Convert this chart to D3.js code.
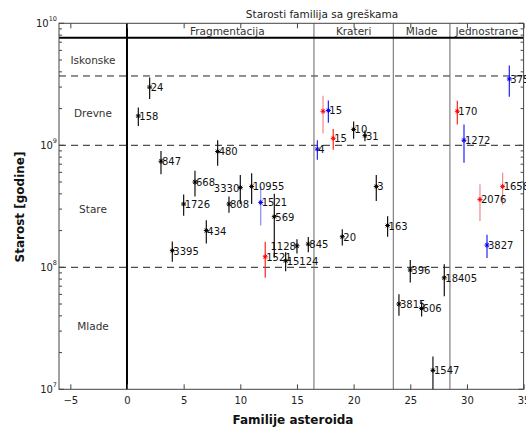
<!DOCTYPE html>
<html><head><meta charset="utf-8">
<script src="https://cdn.jsdelivr.net/npm/d3@7"></script>
<style>body{margin:0;background:#fff}svg{display:block;font-family:"DejaVu Sans",sans-serif}</style>
</head><body><svg id="c" width="526" height="430"></svg>
<script>
// ---- data ----
const labels = ["24","158","847","480","668","3330","10955","1726","808","1521","434","569","3395","1128","845","1521","15124",
  "","15","15","4","10","31","3","20","163",
  "396","18405","3815","606","1547",
  "375","170","1272","2076","1658","3827"];
const familyX = [2,1,3,8,6,10,11,5,9,11.8,7,13,4,15,16,12.2,14,
  17.3,17.77,18.2,16.8,20,21,22,19,23,
  25,28,24,26,27,
  33.74,29.15,29.74,31.15,33.15,31.77];
const ages = [3.0e9,1.74e9,7.4e8,8.9e8,5.0e8,4.5e8,4.6e8,3.3e8,3.3e8,3.4e8,2.0e8,2.6e8,1.37e8,1.5e8,1.55e8,1.22e8,1.13e8,
  1.9e9,1.93e9,1.14e9,9.3e8,1.35e9,1.2e9,4.6e8,1.78e8,2.2e8,
  9.5e7,8.2e7,5.0e7,4.6e7,1.43e7,
  3.5e9,1.9e9,1.1e9,3.6e8,4.6e8,1.52e8];
const ageErr = [0.6e9,0.3e9,1.6e8,2.1e8,1.2e8,1.2e8,1.3e8,0.65e8,0.5e8,1.2e8,0.43e8,1.4e8,0.26e8,0.2e8,0.22e8,0.4e8,0.2e8,
  0.65e9,0.4e9,0.22e9,1.7e8,0.22e9,0.12e9,1.1e8,0.27e8,0.42e8,
  2.0e7,2.4e7,1.0e7,0.65e7,0.43e7,
  1.0e9,0.42e9,0.38e9,1.2e8,1.35e8,0.33e8];
const method = ["A","A","A","A","A","A","A","A","A","C2","A","A","A","A","A","B","A",
  "B2","C","B","C","A","A","A","A","A",
  "A","A","A","A","A",
  "C","B","C","B2","B2","C"];
const xTicks = [-5,0,5,10,15,20,25,30,35];
const yTicks = [1e7,1e8,1e9,1e10];
const sectionBounds = [16.5,23.5,28.5];
const sectionNames = ["Fragmentacija","Krateri","Mlade","Jednostrane"];
const sectionCenters = [8.85,20,26,31.75];
const ageBounds = [1e8,1e9,3.7e9];
const topBound = 7.6e9;
const ageNames = ["Iskonske","Drevne","Stare","Mlade"];
const ageNamePos = [5e9,1.85e9,3e8,3.3e7];
const leftLabels = new Set(["3330","1128"]);

// ---- drawing ----
const svg = d3.select("#c");
const x = d3.scaleLinear().domain([-6,35]).range([59,523.6]);
const y = d3.scaleLog().domain([1e7,1e10]).range([389.3,23.3]);
const markColor = d3.scaleOrdinal().domain(["A","B","B2","C","C2"]).range(["#000","#f00","#f00","#00f","#00f"]);
const barColor = d3.scaleOrdinal().domain(["A","B","B2","C","C2"]).range(["#111","#f22","#f08a8a","#22f","#8a8aff"]);
const X0 = x.range()[0], X1 = x.range()[1], Y0 = y.range()[0], Y1 = y.range()[1];

// dashed age boundaries
svg.append("g").selectAll("line").data(ageBounds).join("line")
  .attr("x1",X0).attr("x2",X1).attr("y1",d=>y(d)).attr("y2",d=>y(d))
  .attr("stroke","#222").attr("stroke-width",1).attr("stroke-dasharray","7,5");
// section separators
svg.append("g").selectAll("line").data(sectionBounds).join("line")
  .attr("x1",d=>x(d)).attr("x2",d=>x(d)).attr("y1",Y1).attr("y2",Y0)
  .attr("stroke","#666").attr("stroke-width",1);
// thick lines
svg.append("line").attr("x1",X0).attr("x2",X1).attr("y1",y(topBound)).attr("y2",y(topBound)).attr("stroke","#000").attr("stroke-width",2);
svg.append("line").attr("x1",x(0)).attr("x2",x(0)).attr("y1",Y1).attr("y2",Y0).attr("stroke","#000").attr("stroke-width",2);

// frame
svg.append("rect").attr("x",X0).attr("y",Y1).attr("width",X1-X0).attr("height",Y0-Y1)
  .attr("fill","none").attr("stroke","#444").attr("stroke-width",1);

// x axes (inward ticks)
const xb = svg.append("g").attr("transform",`translate(0,${Y0})`)
  .call(d3.axisBottom(x).tickValues(xTicks).tickSize(-5).tickPadding(8).tickFormat(d=>d<0?"\u2212"+(-d):d));
const xt = svg.append("g").attr("transform",`translate(0,${Y1})`)
  .call(d3.axisTop(x).tickValues(xTicks).tickSize(-5).tickFormat(""));
[xb,xt].forEach(g=>{g.select(".domain").remove();g.selectAll("line").attr("stroke","#444");
  g.selectAll("text").attr("font-size",10).attr("fill","#222").attr("font-family","DejaVu Sans");});

// y ticks (log, major+minor) left and right
const minor = [];
for (let e=7;e<10;e++) for (let m=2;m<10;m++) minor.push(m*Math.pow(10,e));
[[X0,1],[X1,-1]].forEach(([xp,dir])=>{
  svg.append("g").selectAll("line").data(minor).join("line")
    .attr("x1",xp).attr("x2",xp+dir*3).attr("y1",d=>y(d)).attr("y2",d=>y(d)).attr("stroke","#444");
  svg.append("g").selectAll("line").data(yTicks).join("line")
    .attr("x1",xp).attr("x2",xp+dir*5).attr("y1",d=>y(d)).attr("y2",d=>y(d)).attr("stroke","#444");
});
const yl = svg.append("g").selectAll("text").data(yTicks).join("text")
  .attr("x",X0-2).attr("y",d=>y(d)+4).attr("text-anchor","end").attr("font-size",10).attr("fill","#222");
yl.append("tspan").text("10");
yl.append("tspan").attr("font-size",6.5).attr("dy",-6).text(d=>Math.round(Math.log10(d)));

// region labels
svg.append("g").selectAll("text").data(ageNames).join("text")
  .attr("x",x(-3)).attr("y",(d,i)=>y(ageNamePos[i])+4).attr("text-anchor","middle")
  .attr("font-size",10.5).attr("fill","#333").text(d=>d);
svg.append("g").selectAll("text").data(sectionNames).join("text")
  .attr("x",(d,i)=>x(sectionCenters[i])).attr("y",35).attr("text-anchor","middle")
  .attr("font-size",10.5).attr("fill","#333").text(d=>d);

// error bars
const pts = labels.map((l,i)=>({l,x:familyX[i],a:ages[i],e:ageErr[i],m:method[i]}));
svg.append("g").selectAll("line").data(pts).join("line")
  .attr("x1",d=>x(d.x)).attr("x2",d=>x(d.x))
  .attr("y1",d=>y(d.a+d.e)).attr("y2",d=>y(Math.max(d.a-d.e,1e7)))
  .attr("stroke",d=>barColor(d.m)).attr("stroke-width",1.2);
// star markers
const star = svg.append("g").selectAll("g").data(pts).join("g")
  .attr("transform",d=>`translate(${x(d.x)},${y(d.a)})`).attr("stroke",d=>markColor(d.m)).attr("stroke-width",1);
[[-2.5,0,2.5,0],[0,-2.5,0,2.5],[-1.8,-1.8,1.8,1.8],[-1.8,1.8,1.8,-1.8]].forEach(s=>
  star.append("line").attr("x1",s[0]).attr("y1",s[1]).attr("x2",s[2]).attr("y2",s[3]));
// point labels
svg.append("g").selectAll("text").data(pts).join("text")
  .attr("x",d=>x(d.x)+(leftLabels.has(d.l)?-1:1))
  .attr("y",d=>y(d.a)+4).attr("text-anchor",d=>leftLabels.has(d.l)?"end":"start")
  .attr("font-size",10).attr("fill","#111").text(d=>d.l);

// titles
svg.append("text").attr("x",322).attr("y",18).attr("text-anchor","middle").attr("font-size",10.5).attr("fill","#222")
  .text("Starosti familija sa greškama");
svg.append("text").attr("x",293).attr("y",424).attr("text-anchor","middle").attr("font-size",12).attr("font-weight","bold")
  .attr("fill","#111").text("Familije asteroida");
svg.append("text").attr("transform","translate(24,207) rotate(-90)").attr("text-anchor","middle").attr("font-size",12)
  .attr("font-weight","bold").attr("fill","#111").text("Starost [godine]");
</script></body></html>
